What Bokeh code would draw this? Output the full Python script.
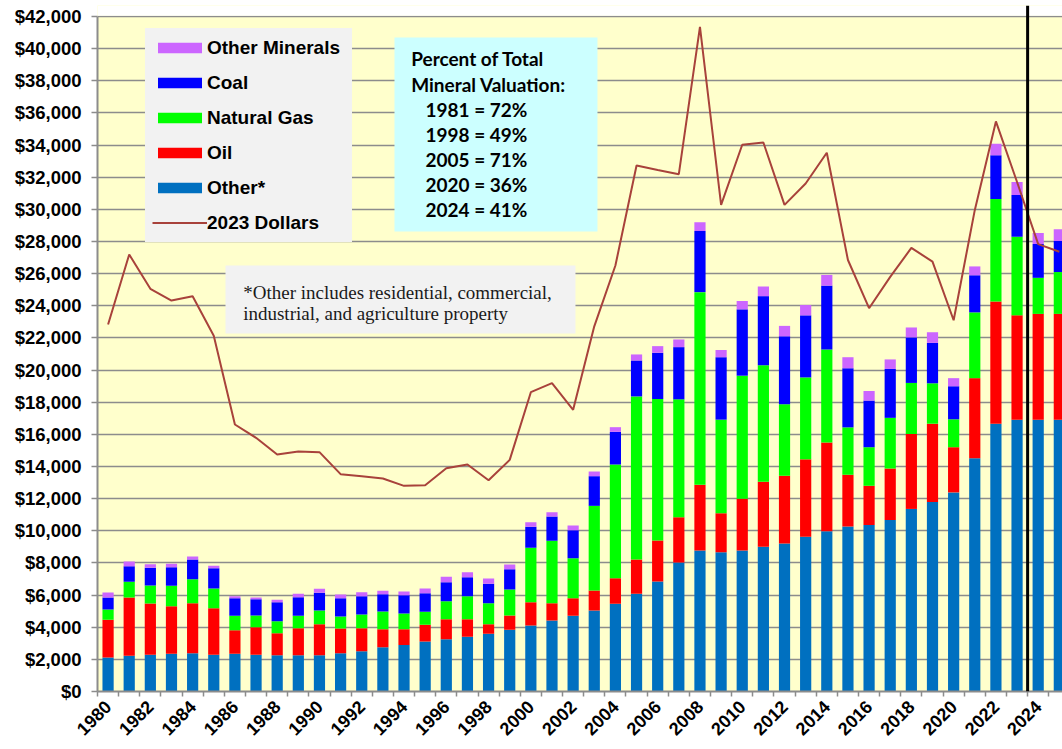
import math
from bokeh.plotting import figure
from bokeh.models import (Range1d, FixedTicker, NumeralTickFormatter, Span, BoxAnnotation,
                          Label, Legend, LegendItem, ColumnDataSource)
from bokeh.embed import file_html
from bokeh.resources import INLINE

# ---------------- data ----------------
years = list(range(1980, 2026))
other = [2115, 2219, 2281, 2344, 2385, 2281, 2344, 2281, 2261, 2261, 2261, 2385, 2510, 2758, 2890,
         3111, 3256, 3401, 3588, 3837, 4107, 4418, 4708, 5040, 5455, 6077, 6850, 8020, 8770, 8663,
         8777, 9006, 9211, 9623, 9966, 10263, 10354, 10674, 11360, 11794, 12389, 14514, 16663,
         16914, 16914, 16914]
oil = [2344, 3630, 3194, 2965, 3111, 2904, 1472, 1722, 1369, 1680, 1928, 1535, 1431, 1120, 988,
       1037, 1245, 1100, 601, 892, 1451, 1078, 1099, 1244, 1597, 2136, 2550, 2830, 4090, 2423,
       3223, 4045, 4206, 4823, 5531, 3223, 2446, 3200, 4663, 4869, 2811, 4983, 7611, 6492, 6583, 6583]
natural_gas = [643, 974, 1120, 1266, 1493, 1224, 892, 726, 746, 767, 851, 747, 850, 1100, 975,
               809, 1120, 1431, 1307, 1617, 3381, 3878, 2489, 5268, 7072, 10147, 8800, 7330, 11990,
               5828, 7650, 7249, 4457, 5097, 5783, 2948, 2400, 3154, 3177, 2514, 1737, 4092, 6376,
               4894, 2243, 2603]
coal = [747, 975, 1100, 1161, 1224, 1265, 1099, 1016, 1182, 1161, 1099, 1140, 1141, 1078, 1141,
        1161, 1182, 1182, 1203, 1266, 1307, 1515, 1742, 1846, 2032, 2238, 2875, 3248, 3800, 3886,
        4130, 4300, 4226, 3863, 3977, 3680, 2903, 3041, 2834, 2514, 2057, 2311, 2720, 2600, 2110, 1930]
other_minerals = [311, 291, 228, 207, 187, 145, 125, 104, 146, 208, 249, 228, 249, 207, 228,
                  291, 332, 311, 332, 290, 290, 269, 291, 290, 291, 374, 415, 477, 550, 450,
                  520, 600, 650, 640, 663, 686, 594, 594, 617, 663, 503, 550, 710, 800, 680, 740]
dollars_2023 = [22836, 27192, 25057, 24329, 24598, 22131, 16614, 15784, 14747, 14934, 14893,
                13523, 13399, 13254, 12797, 12838, 13896, 14124, 13149, 14414, 18625, 19185,
                17525, 22724, 26507, 32730, 32450, 32190, 41360, 30280, 34020, 34160, 30280,
                31610, 33520, 26850, 23850, 25800, 27600, 26750, 23100, 29950, 35470, 31700,
                27840, 27360]

y_ticks = list(range(0, 42001, 2000))
x_label_years = list(range(1980, 2025, 2))
series_names = ["other", "oil", "natural_gas", "coal", "other_minerals"]
series_colors = ["#0070C0", "#FF0000", "#00FF00", "#0000FF", "#CC66FF"]
legend_labels = ["Other Minerals", "Coal", "Natural Gas", "Oil", "Other*", "2023 Dollars"]
percent_title = ["Percent of Total", "Mineral Valuation:"]
percent_lines = ["1981 = 72%", "1998 = 49%", "2005 = 71%", "2020 = 36%", "2024 = 41%"]
note_lines = ["*Other includes residential, commercial,", "industrial, and agriculture property"]

# --------------- helpers for annotation placement (page pixel -> data) ---------------
def dx(px):
    return 1979.5 + (px - 97) / 21.14

def dy(py):
    return (691 - py) / 0.016071

# ---------------- figure ----------------
p = figure(width=1062, height=749, output_backend="svg", toolbar_location=None,
           x_range=Range1d(1979.5, 2025.15), y_range=Range1d(0, 42685),
           min_border_left=97, min_border_right=0, min_border_top=5, min_border_bottom=58,
           background_fill_color="#FFFFCC", border_fill_color="white", outline_line_color=None)

p.xgrid.visible = False
yt = FixedTicker(ticks=y_ticks)
p.yaxis.ticker = yt
p.ygrid.ticker = yt
p.ygrid.grid_line_color = "#8C8C8C"
p.ygrid.grid_line_width = 1.5

p.add_layout(BoxAnnotation(bottom=42045, fill_color="white", fill_alpha=1, line_color=None,
                           level="underlay"))

src = ColumnDataSource(dict(year=years, other=other, oil=oil, natural_gas=natural_gas,
                            coal=coal, other_minerals=other_minerals, real=dollars_2023))
bars = p.vbar_stack(series_names, x="year", width=0.53, fill_color=series_colors,
                    line_color=None, source=src)
line_r = p.line("year", "real", source=src, line_color="#A8423B", line_width=2)

p.add_layout(Span(location=2023.5, dimension="height", line_color="black", line_width=3))

# axes
p.yaxis.formatter = NumeralTickFormatter(format="$0,0")
p.yaxis.bounds = (0, 42000)
p.yaxis.axis_line_color = "#8C8C8C"
p.yaxis.axis_line_width = 2
p.yaxis.major_tick_line_color = "#8C8C8C"
p.yaxis.major_tick_line_width = 1.5
p.yaxis.major_tick_in = 0
p.yaxis.major_tick_out = 6
p.yaxis.minor_tick_line_color = None
p.yaxis.major_label_standoff = 10
p.yaxis.major_label_text_font = "Liberation Sans"
p.yaxis.major_label_text_font_style = "bold"
p.yaxis.major_label_text_font_size = "18.5px"
p.yaxis.major_label_text_color = "black"

p.xaxis.ticker = FixedTicker(ticks=x_label_years, minor_ticks=[y - 0.5 for y in years] + [2025.5])
p.xaxis.axis_line_color = "#8C8C8C"
p.xaxis.axis_line_width = 2
p.xaxis.major_tick_in = 0
p.xaxis.major_tick_out = 0
p.xaxis.minor_tick_in = 0
p.xaxis.minor_tick_out = 5
p.xaxis.minor_tick_line_color = "#8C8C8C"
p.xaxis.minor_tick_line_width = 1.5
p.xaxis.major_label_orientation = math.pi / 4
p.xaxis.major_label_standoff = 7
p.xaxis.major_label_text_font = "Liberation Sans"
p.xaxis.major_label_text_font_style = "bold"
p.xaxis.major_label_text_font_size = "18px"
p.xaxis.major_label_text_color = "black"

# legend
order = [bars[4], bars[3], bars[2], bars[1], bars[0], line_r]
items = [LegendItem(label=lab, renderers=[r]) for lab, r in zip(legend_labels, order)]
legend = Legend(items=items, location=(48, 449), background_fill_color="#F2F2F2",
                background_fill_alpha=1, border_line_color="#F2F2F2", border_line_width=1,
                label_text_font="Liberation Sans", label_text_font_style="bold",
                label_text_font_size="19px", label_text_color="black",
                glyph_width=55, glyph_height=13, label_height=25, label_width=138, spacing=10,
                padding=6, margin=0, label_standoff=0)
p.add_layout(legend)

# percent box
p.add_layout(BoxAnnotation(left=dx(394), right=dx(597), top=dy(37), bottom=dy(231),
                           fill_color="#CCFFFF", fill_alpha=1, line_color=None))
title_y = [58.3, 84.3]
for t, ty in zip(percent_title, title_y):
    p.add_layout(Label(x=dx(410.7), y=dy(ty), text=t, text_font="Lato", text_font_style="bold",
                       text_font_size="19px", text_baseline="middle", text_color="black"))
for i, t in enumerate(percent_lines):
    p.add_layout(Label(x=dx(425), y=dy(109 + 25.1 * i), text=t, text_font="Lato",
                       text_font_style="bold", text_font_size="19px",
                       text_baseline="middle", text_color="black"))

# note box
p.add_layout(BoxAnnotation(left=dx(225), right=dx(575), top=dy(265), bottom=dy(333),
                           fill_color="#F2F2F2", fill_alpha=1, line_color=None))
for i, t in enumerate(note_lines):
    p.add_layout(Label(x=dx(242.7), y=dy(291.7 + 21.6 * i), text=t, text_font="Liberation Serif",
                       text_font_size="19px", text_baseline="alphabetic", text_color="#1a1a1a"))

open("out.html", "w").write(file_html(p, INLINE))
